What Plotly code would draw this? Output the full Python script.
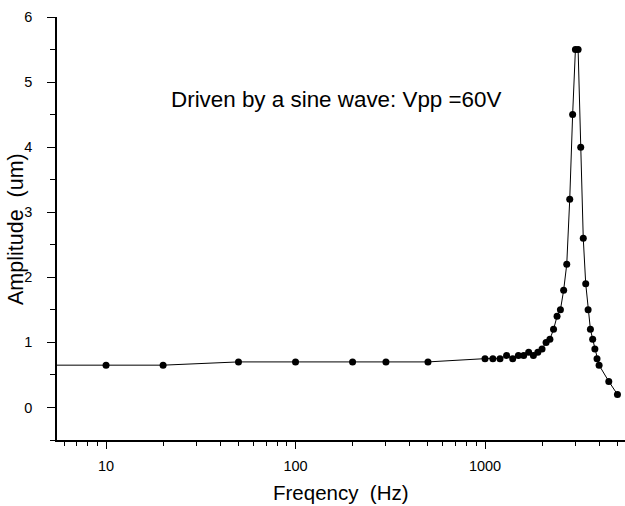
import numpy as np
import plotly.graph_objects as go

freq = [5, 10, 20, 50, 100, 200, 300, 500, 1000, 1100, 1200, 1300, 1400, 1500, 1600,
        1700, 1800, 1900, 2000, 2100, 2200, 2300, 2400, 2500, 2600, 2700, 2800,
        2900, 3000, 3100, 3200, 3300, 3400, 3500, 3600, 3700, 3800, 3900, 4000,
        4500, 5000]
amp = [0.65, 0.65, 0.65, 0.7, 0.7, 0.7, 0.7, 0.7, 0.75, 0.75, 0.75, 0.8, 0.75, 0.8, 0.8,
       0.85, 0.8, 0.85, 0.9, 1.0, 1.05, 1.2, 1.4, 1.5, 1.8, 2.2, 3.2,
       4.5, 5.5, 5.5, 4.0, 2.6, 1.9, 1.5, 1.2, 1.05, 0.9, 0.75, 0.65,
       0.4, 0.2]

x_major = [10, 100, 1000]
x_major_text = ["10", "100", "1000"]
x_minor = [6, 7, 8, 9] + [m * d for d in [10, 100, 1000] for m in range(2, 10)]
y_major = [0, 1, 2, 3, 4, 5, 6]
y_minor = [-0.5, 0.5, 1.5, 2.5, 3.5, 4.5, 5.5]

note = "Driven by a sine wave: Vpp =60V"
x_title = "Freqency  (Hz)"
y_title = "Amplitude  (um)"

W, H = 625, 506
L, R, T, B = 57, 0, 17, 66
pw, ph = W - L - R, H - T - B


def px(xp):
    return (xp - L) / pw


def py(yp):
    return (H - B - yp) / ph


fig = go.Figure()
fig.add_trace(go.Scatter(
    x=freq, y=amp, mode="lines+markers",
    line=dict(color="black", width=1),
    marker=dict(color="black", size=7, symbol="circle"),
    showlegend=False,
))

fig.add_annotation(x=px(336), y=py(100), xref="paper", yref="paper",
                   xanchor="center", yanchor="middle", showarrow=False, text=note,
                   font=dict(size=22.4, color="black"))
fig.add_annotation(x=px(341), y=py(492), xref="paper", yref="paper",
                   xanchor="center", yanchor="middle", showarrow=False, text=x_title,
                   font=dict(size=20.5, color="black"))
fig.add_annotation(x=px(16), y=py(229), xref="paper", yref="paper",
                   xanchor="center", yanchor="middle", showarrow=False, text=y_title,
                   textangle=-90, borderpad=0, font=dict(size=21.5, color="black"))

fig.update_layout(
    width=W, height=H,
    margin=dict(l=L, r=R, t=T, b=B, pad=0),
    paper_bgcolor="white", plot_bgcolor="white",
    font=dict(family="Liberation Sans, Arial, sans-serif", color="black", size=14.5),
    xaxis=dict(
        type="log", range=[np.log10(5.51), np.log10(5480)], automargin=False,
        showgrid=False, zeroline=False, showline=True, linecolor="black", linewidth=1.5,
        ticks="outside", ticklen=7, tickwidth=1.3, tickcolor="black",
        tickmode="array", tickvals=x_major, ticktext=x_major_text,
        minor=dict(tickmode="array", tickvals=x_minor, ticks="outside", ticklen=4,
                   tickwidth=1.2, tickcolor="black", showgrid=False),
        ticklabelstandoff=5,
        tickfont=dict(size=14.5),
    ),
    yaxis=dict(
        range=[-0.5, 6], automargin=False,
        showgrid=False, zeroline=False, showline=True, linecolor="black", linewidth=1.5,
        ticks="outside", ticklen=8, tickwidth=1.3, tickcolor="black",
        tickmode="array", tickvals=y_major,
        minor=dict(tickmode="array", tickvals=y_minor, ticks="outside", ticklen=5,
                   tickwidth=1.2, tickcolor="black", showgrid=False),
        ticklabelstandoff=12,
        tickfont=dict(size=14.5),
    ),
)

fig.write_html(
    "out.html",
    config={"displayModeBar": False},
    post_script="document.body.style.margin='0';document.body.style.overflow='hidden';"
                "document.documentElement.style.overflow='hidden';",
)
